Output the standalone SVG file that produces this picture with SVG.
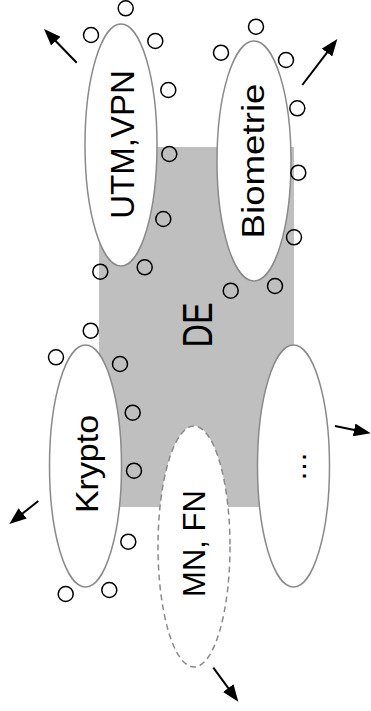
<svg xmlns="http://www.w3.org/2000/svg" width="371" height="711" viewBox="0 0 371 711">
<style>
.el{fill:#fff;stroke:#8a8a8a;stroke-width:1.5}
.dash{stroke-dasharray:6 4}
.c{fill:none;stroke:#000;stroke-width:1.5}
.t{font-family:"Liberation Sans",Arial,sans-serif;fill:#000;text-anchor:middle}
.ar{stroke:#000;stroke-width:2;fill:none;marker-end:url(#ah)}
</style>
<defs>
<marker id="ah" viewBox="0 0 17 13" refX="9" refY="6.5" markerWidth="17" markerHeight="13" markerUnits="userSpaceOnUse" orient="auto">
<path d="M0,0 L17,6.5 L0,13 z" fill="#000"/>
</marker>
</defs>
<g id="DE">
<rect x="99" y="147" width="195" height="360" fill="#bfbfbf"/>
<text class="t" transform="translate(211.5,325) rotate(-90)" font-size="42" textLength="45" lengthAdjust="spacingAndGlyphs">DE</text>
</g>
<g id="utm">
<ellipse class="el" cx="121" cy="145" rx="36" ry="121"/>
<text class="t" transform="translate(134,144.5) rotate(-90)" font-size="33">UTM,VPN</text>
</g>
<g id="biometrie">
<ellipse class="el" cx="254" cy="161" rx="37" ry="120"/>
<text class="t" transform="translate(264.3,161) rotate(-90)" font-size="32" textLength="155" lengthAdjust="spacingAndGlyphs">Biometrie</text>
</g>
<g id="krypto">
<ellipse class="el" cx="85.5" cy="466" rx="36" ry="121"/>
<text class="t" transform="translate(97.7,464) rotate(-90)" font-size="32" textLength="98" lengthAdjust="spacingAndGlyphs">Krypto</text>
</g>
<g id="mnfn">
<ellipse class="el dash" cx="194" cy="546.5" rx="36" ry="120.5"/>
<text class="t" transform="translate(205,543.5) rotate(-90)" font-size="31">MN, FN</text>
</g>
<g id="more">
<ellipse class="el" cx="293.5" cy="466" rx="36" ry="121"/>
<text class="t" transform="translate(306,466.5) rotate(-90)" font-size="30">…</text>
</g>
<g id="particles">
<circle class="c" cx="125.7" cy="8.3" r="7.5"/>
<circle class="c" cx="91" cy="35" r="7.5"/>
<circle class="c" cx="155.3" cy="41" r="7.5"/>
<circle class="c" cx="168.3" cy="90" r="7.5"/>
<circle class="c" cx="169.3" cy="154" r="7.5"/>
<circle class="c" cx="163.3" cy="219" r="7.5"/>
<circle class="c" cx="100.3" cy="271.7" r="7.5"/>
<circle class="c" cx="144.7" cy="267.3" r="7.5"/>
<circle class="c" cx="256" cy="26.7" r="7.5"/>
<circle class="c" cx="221" cy="52.7" r="7.5"/>
<circle class="c" cx="286" cy="60" r="7.5"/>
<circle class="c" cx="297.3" cy="108.3" r="7.5"/>
<circle class="c" cx="298.3" cy="172.7" r="7.5"/>
<circle class="c" cx="294" cy="237.3" r="7.5"/>
<circle class="c" cx="230.7" cy="290.7" r="7.5"/>
<circle class="c" cx="275" cy="286" r="7.5"/>
<circle class="c" cx="90.7" cy="330.7" r="7.5"/>
<circle class="c" cx="56" cy="357.3" r="7.5"/>
<circle class="c" cx="120" cy="364" r="7.5"/>
<circle class="c" cx="132.7" cy="412.7" r="7.5"/>
<circle class="c" cx="134" cy="470.7" r="7.5"/>
<circle class="c" cx="128.3" cy="541.7" r="7.5"/>
<circle class="c" cx="65.7" cy="594" r="7.5"/>
<circle class="c" cx="109.3" cy="590" r="7.5"/>
</g>
<g id="connectors">
<line class="ar" x1="76.7" y1="62.7" x2="49.6" y2="34.7"/>
<line class="ar" x1="302.3" y1="85" x2="332.5" y2="45.4"/>
<line class="ar" x1="38.3" y1="501" x2="15.6" y2="519"/>
<line class="ar" x1="335" y1="426" x2="362.9" y2="431.7"/>
<line class="ar" x1="213.3" y1="667.7" x2="233.6" y2="695.3"/>
</g>
</svg>
